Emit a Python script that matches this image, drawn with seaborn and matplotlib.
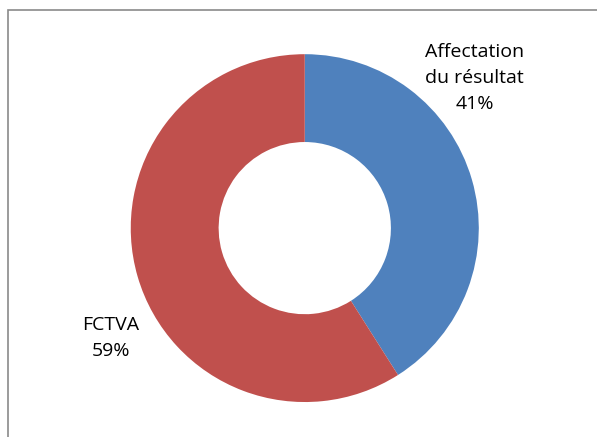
import matplotlib.pyplot as plt
import seaborn as sns
from matplotlib.patches import Rectangle

# data
labels = ["Affectation\ndu résultat", "FCTVA"]
values = [41, 59]
colors = ["#4F81BD", "#C0504D"]

# theme
sns.set_theme(style="white")
plt.rcParams["font.family"] = ["Open Sans", "DejaVu Sans"]

fig = plt.figure(figsize=(5.97, 4.37), dpi=100)
ax = fig.add_axes([0.219, 0.080, 0.583, 0.796])

wedges, _ = ax.pie(values, colors=colors, startangle=90, counterclock=False,
                   radius=1.0, wedgeprops=dict(width=0.505, edgecolor="white", linewidth=0))
ax.set_xlim(-1, 1)
ax.set_ylim(-1, 1)
ax.set_aspect("auto")
ax.axis("off")

# data labels
label_pos = [(0.977, 0.862), (-1.115, -0.63)]
total = sum(values)
for lab, val, (x, y) in zip(labels, values, label_pos):
    ax.text(x, y, f"{lab}\n{round(100 * val / total)}%", ha="center", va="center",
            fontsize=14, color="black", linespacing=1.55)

# chart border
fig.patches.append(Rectangle((8 / 597, -0.1), 1.2, 0.977 + 0.1, transform=fig.transFigure,
                             fill=False, edgecolor="#8a8a8a", linewidth=1.2))

fig.savefig("out.png", dpi=100)
